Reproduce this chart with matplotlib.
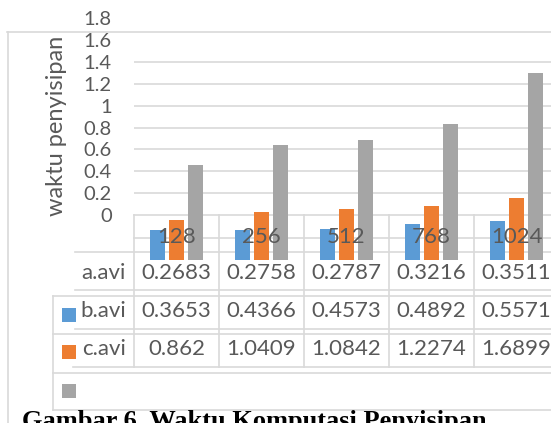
import matplotlib
matplotlib.use("Agg")
import matplotlib.pyplot as plt
import matplotlib.transforms as mtransforms
import numpy as np

# ---------------- data ----------------
categories = ["128", "256", "512", "768", "1024"]
series_names = ["a.avi", "b.avi", "c.avi"]
a_avi = [0.2683, 0.2758, 0.2787, 0.3216, 0.3511]
b_avi = [0.3653, 0.4366, 0.4573, 0.4892, 0.5571]
c_avi = [0.862, 1.0409, 1.0842, 1.2274, 1.6899]
y_ticks = [0, 0.2, 0.4, 0.6, 0.8, 1.0, 1.2, 1.4, 1.6, 1.8]
y_tick_labels = ["0", "0.2", "0.4", "0.6", "0.8", "1", "1.2", "1.4", "1.6", "1.8"]
y_label = "waktu penyisipan"
caption = "Gambar 6. Waktu Komputasi Penyisipan"

colors = ["#5B9BD5", "#ED7D31", "#A5A5A5"]
grid_c = "#D9D9D9"
text_c = "#595959"
FONT = ["Lato", "DejaVu Sans"]

W, H = 551, 423
fig = plt.figure(figsize=(W / 100, H / 100), dpi=100)


def rect(x0, y_bottom, x1, y_top):
    return [x0 / W, (H - y_bottom) / H, (x1 - x0) / W, (y_bottom - y_top) / H]


# back layer: frame + table lines (pixel coordinates)
back = fig.add_axes([0, 0, 1, 1], zorder=0)
back.set_xlim(0, W)
back.set_ylim(H, 0)
back.axis("off")

# value axis (ticks + gridlines)
tick_ax = fig.add_axes(rect(134, 215, 559, 18.4), zorder=0.5)
tick_ax.set_facecolor("none")
tick_ax.set_ylim(0, 1.8)
tick_ax.set_xlim(0, 1)
for s in tick_ax.spines.values():
    s.set_visible(False)
tick_ax.set_xticks([])
tick_ax.set_yticks(y_ticks)
tick_ax.set_yticklabels(y_tick_labels, family=FONT, fontsize=14.5, color=text_c)
tick_ax.tick_params(axis="y", length=0, pad=16)
for v in y_ticks[1:-2]:
    tick_ax.axhline(v, color=grid_c, lw=1.2)

# bar axes
bar_ax = fig.add_axes(rect(134, 260, 559, 39), zorder=1)
bar_ax.set_facecolor("none")
bar_ax.set_xlim(0, len(categories))
bar_ax.set_ylim(0, 2.0)
bar_ax.axis("off")
x = np.arange(len(categories)) + 0.5
for k, (vals, col) in enumerate(zip([a_avi, b_avi, c_avi], colors)):
    bar_ax.bar(x + (k - 1) * 0.22, vals, width=0.18, color=col)

# front layer: texts & swatches
front = fig.add_axes([0, 0, 1, 1], zorder=2)
front.set_xlim(0, W)
front.set_ylim(H, 0)
front.axis("off")
front.set_facecolor("none")

col_tr = mtransforms.blended_transform_factory(bar_ax.transData, back.transData)
col_tr_f = mtransforms.blended_transform_factory(bar_ax.transData, front.transData)

lw = 1.2
# outer frame
back.plot([7, W], [32, 32], color=grid_c, lw=lw)
back.plot([7.5, 7.5], [32, H], color=grid_c, lw=lw)
# table horizontal lines
for y0, x0 in [(215, 134), (238, 134), (252, 75), (290, 75), (296, 53), (329, 75),
               (334, 53), (367, 73), (373, 53), (410, 53)]:
    back.plot([x0, W], [y0, y0], color=grid_c, lw=lw)
back.plot([53, 53], [296, 410], color=grid_c, lw=lw)
for i in range(len(categories)):
    back.plot([i, i], [215, 367], color=grid_c, lw=lw, transform=col_tr)

# category labels
for i, c in enumerate(categories):
    front.text(i + 0.5, 237, c, transform=col_tr_f, ha="center", va="center",
               family=FONT, fontsize=16, color=text_c)

# rows
row_y = [273, 311, 349]
for name, vals, yy in zip(series_names, [a_avi, b_avi, c_avi], row_y):
    front.text(126, yy, name, ha="right", va="center", family=FONT, fontsize=16, color=text_c)
    for i, v in enumerate(vals):
        front.text(i + 0.5, yy, f"{v:g}", transform=col_tr_f, ha="center", va="center",
                   family=FONT, fontsize=16, color=text_c)

# legend swatches (shifted one row, as in the reference)
for col, yy in zip(colors, [315, 352.5, 391.5]):
    front.add_patch(plt.Rectangle((62, yy - 7), 14, 14, color=col, lw=0))

# y label
front.text(67, 125.5, y_label, rotation=90, rotation_mode="anchor", ha="center", va="bottom",
           family=FONT, fontsize=17, color=text_c)

# caption (cut by the bottom edge, as in the reference)
front.text(22, 410, caption, ha="left", va="top", family=["Liberation Serif", "DejaVu Serif"],
           fontweight="bold", fontsize=19, color="black")

fig.savefig("out.png", dpi=100)
